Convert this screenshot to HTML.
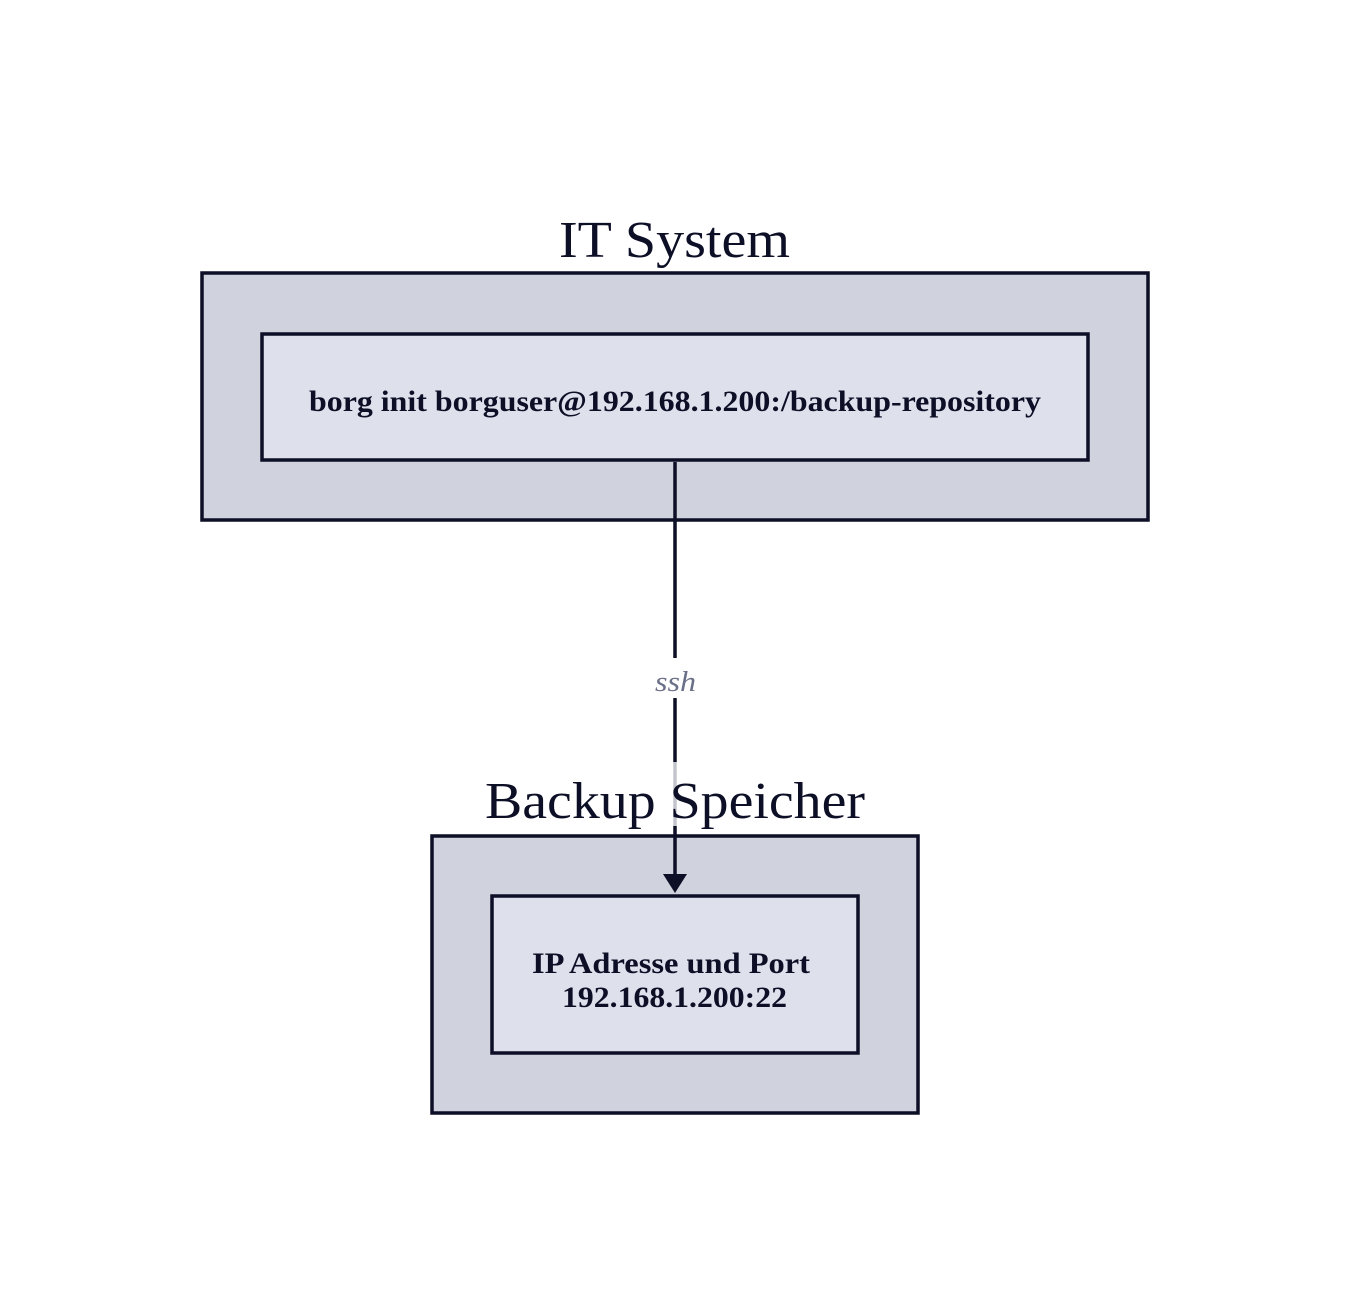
<!DOCTYPE html>
<html><head><meta charset="utf-8"><style>html,body{margin:0;padding:0;background:#fff}svg{display:block}</style></head>
<body>
<svg width="1350" height="1316" viewBox="0 0 1350 1316" xmlns="http://www.w3.org/2000/svg" font-family="'Liberation Serif', serif">
<rect x="202" y="273" width="946" height="247" fill="#d0d2de" stroke="#0c0f26" stroke-width="3.5"/>
<rect x="262" y="334" width="826" height="126" fill="#dee0ec" stroke="#0c0f26" stroke-width="3.5"/>
<text x="559" y="257" font-size="52" textLength="231" lengthAdjust="spacingAndGlyphs" fill="#0c0f26">IT System</text>
<text x="309" y="411" font-size="30" font-weight="bold" textLength="732" lengthAdjust="spacingAndGlyphs" fill="#0c0f26">borg init borguser@192.168.1.200:/backup-repository</text>
<rect x="432" y="836" width="486" height="277" fill="#d0d2de" stroke="#0c0f26" stroke-width="3.5"/>
<rect x="492" y="896" width="366" height="157" fill="#dee0ec" stroke="#0c0f26" stroke-width="3.5"/>
<line x1="675" y1="462" x2="675" y2="658" stroke="#0c0f26" stroke-width="3.5"/>
<line x1="675" y1="698" x2="675" y2="762" stroke="#0c0f26" stroke-width="3.5"/>
<line x1="675" y1="762" x2="675" y2="826" stroke="#c4c5cc" stroke-width="3.5"/>
<line x1="675" y1="826" x2="675" y2="878" stroke="#0c0f26" stroke-width="3.5"/>
<polygon points="663,874 687,874 675,893" fill="#0c0f26"/>
<text x="655" y="691" font-size="28" font-style="italic" textLength="41" lengthAdjust="spacingAndGlyphs" fill="#6b7089">ssh</text>
<text x="485" y="818" font-size="52" textLength="380" lengthAdjust="spacingAndGlyphs" fill="#0c0f26">Backup Speicher</text>
<text x="532" y="973" font-size="30" font-weight="bold" textLength="278" lengthAdjust="spacingAndGlyphs" fill="#0c0f26">IP Adresse und Port</text>
<text x="562" y="1007" font-size="30" font-weight="bold" textLength="225" lengthAdjust="spacingAndGlyphs" fill="#0c0f26">192.168.1.200:22</text>
</svg>
</body></html>
